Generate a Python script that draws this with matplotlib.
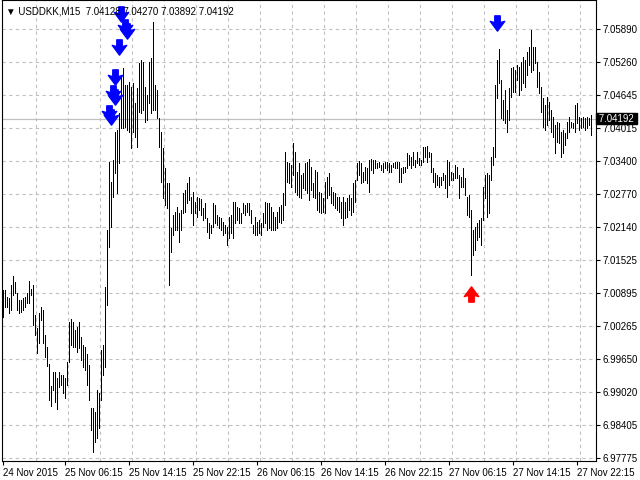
import numpy as np
import matplotlib
matplotlib.use('Agg')
import matplotlib.pyplot as plt
from matplotlib.path import Path
import matplotlib.transforms as mtrans

plt.rcParams['font.family'] = ['Liberation Sans', 'DejaVu Sans']

## USDDKK M15 bars (high / low)
highs = [7.0095, 7.0095, 7.0082, 7.0080, 7.0105, 7.0122, 7.0110, 7.0090, 7.0076, 7.0076,
         7.0080, 7.0082, 7.0090, 7.0112, 7.0097, 7.0105, 7.0048, 7.0023, 7.0052, 7.0063,
         7.0058, 7.0010, 6.9987, 6.9955, 6.9914, 6.9940, 6.9940, 6.9929, 6.9940, 6.9934,
         6.9934, 6.9929, 6.9959, 7.0035, 7.0041, 7.0035, 7.0020, 7.0025, 7.0035, 7.0006,
         6.9991, 6.9987, 6.9974, 6.9953, 6.9872, 6.9872, 6.9865, 6.9906, 6.9900, 6.9982,
         6.9991, 7.0101, 7.0209, 7.0338, 7.0300, 7.0341, 7.0394, 7.0398, 7.0430, 7.0502,
         7.0515, 7.0483, 7.0483, 7.0489, 7.0480, 7.0487, 7.0449, 7.0478, 7.0525, 7.0531,
         7.0527, 7.0480, 7.0465, 7.0527, 7.0534, 7.0602, 7.0483, 7.0474, 7.0421, 7.0394,
         7.0364, 7.0326, 7.0298, 7.0298, 7.0213, 7.0237, 7.0243, 7.0253, 7.0241, 7.0247,
         7.0278, 7.0285, 7.0298, 7.0309, 7.0271, 7.0281, 7.0262, 7.0271, 7.0270, 7.0268,
         7.0251, 7.0260, 7.0232, 7.0222, 7.0219, 7.0260, 7.0256, 7.0237, 7.0234, 7.0232,
         7.0224, 7.0219, 7.0215, 7.0234, 7.0237, 7.0262, 7.0262, 7.0253, 7.0251, 7.0241,
         7.0260, 7.0256, 7.0260, 7.0260, 7.0247, 7.0219, 7.0234, 7.0224, 7.0228, 7.0222,
         7.0241, 7.0262, 7.0260, 7.0260, 7.0253, 7.0243, 7.0234, 7.0243, 7.0253, 7.0256,
         7.0279, 7.0357, 7.0338, 7.0336, 7.0332, 7.0374, 7.0357, 7.0319, 7.0336, 7.0313,
         7.0317, 7.0336, 7.0338, 7.0343, 7.0328, 7.0298, 7.0322, 7.0319, 7.0281, 7.0279,
         7.0270, 7.0300, 7.0309, 7.0317, 7.0290, 7.0281, 7.0279, 7.0271, 7.0271, 7.0262,
         7.0271, 7.0262, 7.0270, 7.0275, 7.0270, 7.0298, 7.0304, 7.0336, 7.0340, 7.0336,
         7.0319, 7.0328, 7.0326, 7.0341, 7.0343, 7.0341, 7.0341, 7.0336, 7.0338, 7.0332,
         7.0336, 7.0338, 7.0338, 7.0336, 7.0332, 7.0336, 7.0338, 7.0338, 7.0338, 7.0326,
         7.0328, 7.0328, 7.0355, 7.0351, 7.0347, 7.0357, 7.0341, 7.0357, 7.0345, 7.0341,
         7.0366, 7.0366, 7.0368, 7.0357, 7.0355, 7.0326, 7.0317, 7.0313, 7.0309, 7.0309,
         7.0317, 7.0313, 7.0341, 7.0338, 7.0319, 7.0317, 7.0332, 7.0328, 7.0313, 7.0309,
         7.0326, 7.0307, 7.0271, 7.0275, 7.0247, 7.0209, 7.0215, 7.0222, 7.0228, 7.0232,
         7.0290, 7.0313, 7.0317, 7.0313, 7.0347, 7.0366, 7.0483, 7.0531, 7.0551, 7.0493,
         7.0455, 7.0474, 7.0436, 7.0478, 7.0515, 7.0517, 7.0512, 7.0521, 7.0517, 7.0527,
         7.0536, 7.0531, 7.0546, 7.0555, 7.0587, 7.0555, 7.0555, 7.0527, 7.0508, 7.0480,
         7.0459, 7.0446, 7.0461, 7.0451, 7.0436, 7.0423, 7.0408, 7.0413, 7.0411, 7.0394,
         7.0398, 7.0393, 7.0413, 7.0423, 7.0413, 7.0411, 7.0446, 7.0449, 7.0423, 7.0421,
         7.0423, 7.0421, 7.0423, 7.0421, 7.0427]
lows = [7.0044, 7.0063, 7.0063, 7.0052, 7.0058, 7.0086, 7.0090, 7.0058, 7.0052, 7.0054,
        7.0058, 7.0063, 7.0071, 7.0071, 7.0086, 7.0029, 7.0010, 6.9976, 6.9995, 7.0039,
        6.9995, 6.9969, 6.9952, 6.9887, 6.9876, 6.9906, 6.9883, 6.9870, 6.9912, 6.9916,
        6.9900, 6.9891, 6.9916, 6.9959, 6.9991, 6.9987, 6.9987, 6.9978, 6.9985, 6.9963,
        6.9950, 6.9944, 6.9916, 6.9887, 6.9830, 6.9789, 6.9808, 6.9815, 6.9834, 6.9887,
        6.9934, 6.9950, 7.0067, 7.0177, 7.0215, 7.0271, 7.0317, 7.0278, 7.0336, 7.0402,
        7.0402, 7.0404, 7.0398, 7.0394, 7.0364, 7.0394, 7.0385, 7.0366, 7.0432, 7.0430,
        7.0436, 7.0413, 7.0417, 7.0449, 7.0430, 7.0436, 7.0436, 7.0421, 7.0366, 7.0300,
        7.0270, 7.0256, 7.0251, 7.0105, 7.0168, 7.0200, 7.0209, 7.0209, 7.0187, 7.0209,
        7.0241, 7.0243, 7.0260, 7.0266, 7.0241, 7.0219, 7.0241, 7.0234, 7.0247, 7.0237,
        7.0228, 7.0232, 7.0206, 7.0194, 7.0204, 7.0215, 7.0222, 7.0219, 7.0213, 7.0209,
        7.0200, 7.0204, 7.0181, 7.0194, 7.0204, 7.0194, 7.0222, 7.0228, 7.0222, 7.0222,
        7.0241, 7.0237, 7.0243, 7.0237, 7.0222, 7.0204, 7.0200, 7.0200, 7.0204, 7.0200,
        7.0215, 7.0222, 7.0209, 7.0213, 7.0209, 7.0209, 7.0209, 7.0213, 7.0224, 7.0222,
        7.0228, 7.0256, 7.0300, 7.0298, 7.0290, 7.0313, 7.0281, 7.0275, 7.0271, 7.0270,
        7.0289, 7.0285, 7.0278, 7.0266, 7.0285, 7.0271, 7.0270, 7.0247, 7.0243, 7.0241,
        7.0243, 7.0241, 7.0270, 7.0275, 7.0260, 7.0256, 7.0251, 7.0247, 7.0243, 7.0232,
        7.0219, 7.0232, 7.0234, 7.0247, 7.0237, 7.0243, 7.0262, 7.0304, 7.0313, 7.0298,
        7.0300, 7.0304, 7.0298, 7.0281, 7.0322, 7.0317, 7.0326, 7.0326, 7.0328, 7.0322,
        7.0319, 7.0326, 7.0322, 7.0319, 7.0319, 7.0328, 7.0326, 7.0326, 7.0300, 7.0300,
        7.0317, 7.0319, 7.0326, 7.0332, 7.0326, 7.0332, 7.0328, 7.0336, 7.0332, 7.0332,
        7.0338, 7.0347, 7.0338, 7.0347, 7.0319, 7.0300, 7.0290, 7.0294, 7.0290, 7.0294,
        7.0304, 7.0289, 7.0271, 7.0294, 7.0304, 7.0304, 7.0307, 7.0307, 7.0270, 7.0290,
        7.0290, 7.0275, 7.0237, 7.0234, 7.0124, 7.0162, 7.0171, 7.0190, 7.0196, 7.0181,
        7.0228, 7.0270, 7.0234, 7.0241, 7.0304, 7.0332, 7.0347, 7.0459, 7.0487, 7.0421,
        7.0417, 7.0411, 7.0394, 7.0417, 7.0461, 7.0470, 7.0470, 7.0493, 7.0465, 7.0474,
        7.0487, 7.0480, 7.0502, 7.0521, 7.0508, 7.0512, 7.0525, 7.0480, 7.0468, 7.0432,
        7.0404, 7.0398, 7.0408, 7.0417, 7.0394, 7.0385, 7.0355, 7.0376, 7.0374, 7.0347,
        7.0355, 7.0370, 7.0383, 7.0394, 7.0404, 7.0402, 7.0394, 7.0411, 7.0398, 7.0402,
        7.0404, 7.0398, 7.0402, 7.0408, 7.0389]

## signal arrows (bar index, price)
sell_idx = [59, 61, 62, 58, 56, 55, 56, 53, 54, 247]
sell_px = [7.0618, 7.0593, 7.0585, 7.0555, 7.0498, 7.0468, 7.0461, 7.0430, 7.0423, 7.0600]
buy_idx = [234]
buy_px = [7.0088]

price_ticks = [7.05890, 7.05260, 7.04645, 7.04015, 7.03400, 7.02770, 7.02140,
               7.01525, 7.00895, 7.00265, 6.99650, 6.99020, 6.98405, 6.97775]
time_idx = [0, 31, 63, 95, 127, 159, 191, 223, 255, 287]
time_lbl = ['24 Nov 2015', '25 Nov 06:15', '25 Nov 14:15', '25 Nov 22:15',
            '26 Nov 06:15', '26 Nov 14:15', '26 Nov 22:15', '27 Nov 06:15',
            '27 Nov 14:15', '27 Nov 22:15']
bid = 7.04192
title = '\u25bc USDDKK,M15  7.04128 7.04270 7.03892 7.04192'

# thick arrow glyphs (wide head, short shaft)
down_arrow = Path([(-0.32, 0.9), (0.32, 0.9), (0.32, 0.1), (0.85, 0.25), (0.0, -0.9),
                   (-0.85, 0.25), (-0.32, 0.1), (-0.32, 0.9)],
                  [Path.MOVETO] + [Path.LINETO] * 6 + [Path.CLOSEPOLY])
up_arrow = Path([(x, -y) for x, y in down_arrow.vertices], down_arrow.codes)

fig = plt.figure(figsize=(6.4, 4.8), dpi=100)
ax = fig.add_axes([2 / 640, 19 / 480, 594 / 640, 461 / 480])

idx = np.arange(len(highs))
ax.set_xlim(-0.5, 296.5)
ax.set_ylim(6.97718, 7.0644)

# grid
for p in price_ticks:
    ax.axhline(p, color='#c0c0c0', lw=0.8, ls=(0, (3, 3)), zorder=0)
for g in np.arange(16.4, 296, 16):
    ax.axvline(g, color='#c0c0c0', lw=0.8, ls=(0, (3, 3)), zorder=0)

ax.axhline(bid, color='#c0c0c0', lw=0.9, zorder=1)

ax.vlines(idx, lows, highs, color='black', lw=0.5, antialiased=False, zorder=2)

ax.plot(sell_idx, sell_px, ls='none', marker=down_arrow, ms=11, color='#0000ff',
        mec='#0000ff', zorder=3)
ax.plot(buy_idx, buy_px, ls='none', marker=up_arrow, ms=11, color='#ff0000',
        mec='#ff0000', zorder=3)

# axes / ticks like the terminal
for s in ax.spines.values():
    s.set_color('black')
    s.set_linewidth(0.8)
ax.yaxis.tick_right()
ax.set_yticks(price_ticks)
ax.set_yticklabels(['%.5f' % p for p in price_ticks])
ax.tick_params(axis='y', direction='out', length=3, width=0.8, pad=2, labelsize=7)
ax.set_xticks(time_idx)
ax.set_xticklabels(time_lbl, ha='left')
ax.tick_params(axis='x', direction='out', length=3, width=0.8, pad=2, labelsize=7)

trans = mtrans.blended_transform_factory(ax.transAxes, ax.transData)
ax.text(1.0, bid, ' 7.04192 ', transform=trans, fontsize=7, color='white', va='center',
        ha='left', bbox=dict(boxstyle='square,pad=0.05', fc='black', ec='black'), zorder=5)

ax.text(0.006, 0.985, title, transform=ax.transAxes, fontsize=7, va='top', ha='left',
        zorder=5)

fig.savefig('out.png', dpi=100, facecolor='white')
